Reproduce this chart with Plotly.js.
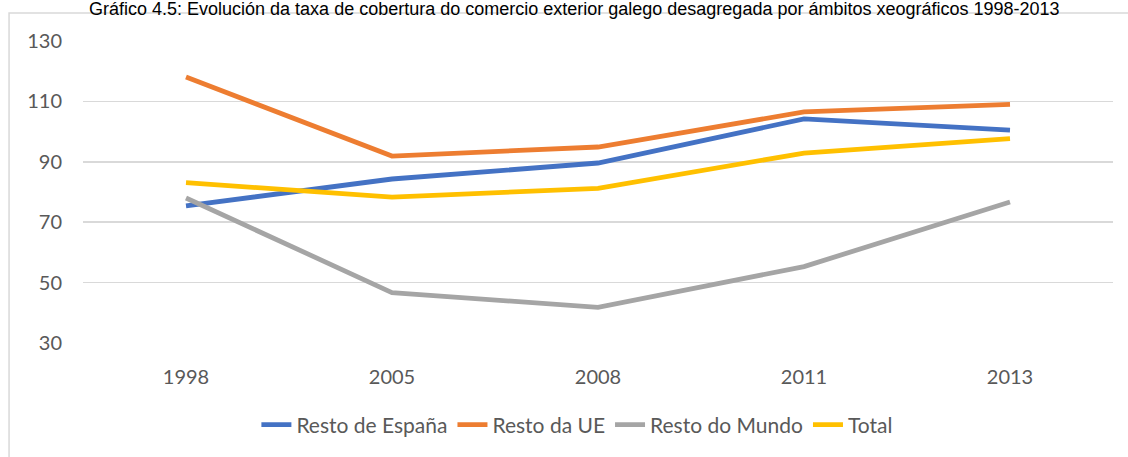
<!DOCTYPE html>
<html>
<head>
<meta charset="utf-8">
<script src="https://cdn.plot.ly/plotly-3.0.1.min.js"></script>
<style>
  body { margin: 0; background: #fff; }
  #chart { width: 1128px; height: 457px; }
</style>
</head>
<body>
<div id="chart"></div>
<script>
const years = ['1998', '2005', '2008', '2011', '2013'];
const restoEspana = [75.4, 84.3, 89.6, 104.2, 100.5];
const restoUE = [118.1, 91.9, 94.9, 106.5, 109.0];
const restoMundo = [78.0, 46.7, 41.8, 55.3, 76.7];
const total = [83.1, 78.3, 81.2, 92.9, 97.7];

const seriesNames = ['Resto de España', 'Resto da UE', 'Resto do Mundo', 'Total'];
const seriesColors = ['#4472C4', '#ED7D31', '#A5A5A5', '#FFC000'];
const seriesValues = [restoEspana, restoUE, restoMundo, total];

const traces = seriesValues.map((vals, i) => ({
    x: years,
    y: vals,
    type: 'scatter',
    mode: 'lines',
    name: seriesNames[i],
    line: { color: seriesColors[i], width: 4.8 }
}));

const tickFont = { family: 'Lato, "Open Sans", sans-serif', size: 20, color: '#595959' };

Plotly.newPlot('chart', traces, {
    width: 1128,
    height: 457,
    margin: { l: 83, r: 15, t: 41, b: 114 },
    paper_bgcolor: '#fff',
    plot_bgcolor: '#fff',
    title: {
        text: 'Gráfico 4.5: Evolución da taxa de cobertura do comercio exterior galego desagregada por ámbitos xeográficos 1998-2013',
        font: { family: '"Liberation Sans Narrow", "Arial Narrow", "Liberation Sans", sans-serif', size: 18, color: '#000' },
        x: 0.477,
        xanchor: 'center',
        xref: 'paper',
        y: 0.982,
        yref: 'container',
        yanchor: 'middle'
    },
    xaxis: {
        type: 'category',
        range: [-0.5, 4.5],
        tickfont: tickFont,
        showgrid: false,
        zeroline: false,
        showline: false,
        ticks: '',
        ticklabelstandoff: 20
    },
    yaxis: {
        range: [30, 130],
        tickvals: [30, 50, 70, 90, 110, 130],
        tickfont: tickFont,
        gridcolor: '#D9D9D9',
        gridwidth: 1.5,
        zeroline: false,
        showline: false,
        ticks: '',
        ticklabelstandoff: 20
    },
    showlegend: true,
    legend: {
        orientation: 'h',
        x: 0.48,
        xanchor: 'center',
        y: -0.2715,
        yanchor: 'middle',
        font: { family: 'Lato, "Open Sans", sans-serif', size: 21, color: '#595959' },
        itemwidth: 30,
        tracegroupgap: 0
    },
    shapes: [{
        type: 'rect',
        xref: 'paper', yref: 'paper',
        x0: -0.0718, x1: 1.03,
        y0: -0.5, y1: 1.0927,
        line: { color: '#D9D9D9', width: 1.5 },
        fillcolor: 'rgba(0,0,0,0)',
        layer: 'below'
    }]
}, { displayModeBar: false, staticPlot: true });
</script>
</body>
</html>
